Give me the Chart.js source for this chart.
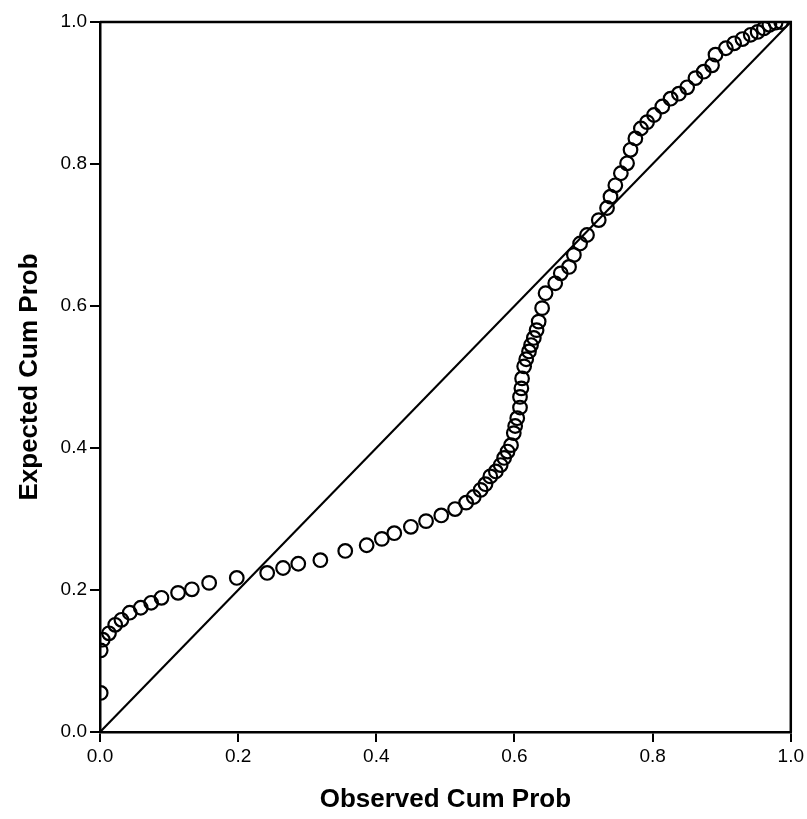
<!DOCTYPE html>
<html>
<head>
<meta charset="utf-8">
<script src="https://cdn.jsdelivr.net/npm/chart.js@4/dist/chart.umd.min.js"></script>
<style>
    html, body { margin: 0; padding: 0; background: #fff; }
    #wrap { width: 807px; height: 819px; }
</style>
</head>
<body>
<div id="wrap"><canvas id="ppChart"></canvas></div>
<script>
// P-P plot data
const observed = [
    0.001, 0.001, 0.004, 0.013, 0.022, 0.031, 0.043, 0.059, 0.074, 0.089,
    0.113, 0.133, 0.158, 0.198, 0.242, 0.265, 0.287, 0.319, 0.355, 0.386,
    0.408, 0.426, 0.450, 0.472, 0.494, 0.514, 0.530, 0.541, 0.551, 0.558,
    0.565, 0.573, 0.580, 0.585, 0.590, 0.595, 0.599, 0.601, 0.604, 0.608,
    0.608, 0.610, 0.611, 0.614, 0.617, 0.621, 0.624, 0.628, 0.632, 0.635,
    0.640, 0.645, 0.659, 0.667, 0.679, 0.686, 0.695, 0.705, 0.722, 0.734,
    0.739, 0.746, 0.754, 0.763, 0.768, 0.775, 0.783, 0.792, 0.802, 0.814,
    0.826, 0.838, 0.850, 0.862, 0.874, 0.886, 0.891, 0.906, 0.918, 0.930,
    0.942, 0.952, 0.961, 0.969, 0.978, 0.986
];
const expected = [
    0.055, 0.115, 0.130, 0.139, 0.151, 0.158, 0.168, 0.175, 0.182, 0.189,
    0.196, 0.201, 0.210, 0.217, 0.224, 0.231, 0.237, 0.242, 0.255, 0.263,
    0.272, 0.280, 0.289, 0.297, 0.305, 0.314, 0.323, 0.331, 0.341, 0.349,
    0.360, 0.367, 0.376, 0.386, 0.395, 0.404, 0.421, 0.431, 0.442, 0.457,
    0.472, 0.484, 0.498, 0.515, 0.525, 0.536, 0.545, 0.555, 0.566, 0.578,
    0.597, 0.618, 0.632, 0.646, 0.655, 0.672, 0.688, 0.700, 0.721, 0.738,
    0.754, 0.770, 0.787, 0.801, 0.820, 0.836, 0.850, 0.859, 0.869, 0.881,
    0.892, 0.899, 0.908, 0.921, 0.930, 0.939, 0.954, 0.963, 0.970, 0.976,
    0.982, 0.986, 0.991, 0.996, 0.999, 1.000
];
const refLineX = [0, 1];
const refLineY = [0, 1];
const tickValues = [0, 0.2, 0.4, 0.6, 0.8, 1.0];

const fontFamily = "'Liberation Sans', Arial, Helvetica, sans-serif";

// draws the top and right sides of the plot frame
const frameBox = {
    id: 'frameBox',
    afterDatasetsDraw(chart) {
        const { ctx, chartArea: a } = chart;
        ctx.save();
        ctx.strokeStyle = '#000';
        ctx.lineWidth = 2.5;
        ctx.beginPath();
        ctx.moveTo(a.left, a.top);
        ctx.lineTo(a.right, a.top);
        ctx.lineTo(a.right, a.bottom);
        ctx.stroke();
        ctx.restore();
    }
};

const ctx = document.getElementById('ppChart').getContext('2d');
new Chart(ctx, {
    type: 'scatter',
    data: {
        datasets: [
            {
                label: 'Observed',
                data: observed.map((x, i) => ({ x: x, y: expected[i] })),
                pointStyle: 'circle',
                pointRadius: 6.8,
                pointBorderWidth: 2.2,
                pointBorderColor: '#000',
                pointBackgroundColor: 'rgba(0,0,0,0)',
                showLine: false
            },
            {
                label: 'Reference',
                type: 'line',
                data: refLineX.map((x, i) => ({ x: x, y: refLineY[i] })),
                borderColor: '#000',
                borderWidth: 2.2,
                pointRadius: 0,
                fill: false
            }
        ]
    },
    options: {
        responsive: true,
        maintainAspectRatio: false,
        animation: false,
        layout: { padding: { top: 22, right: 12, left: 0, bottom: 0 } },
        plugins: {
            legend: { display: false },
            tooltip: { enabled: false }
        },
        scales: {
            x: {
                type: 'linear',
                min: 0,
                max: 1,
                afterBuildTicks: s => { s.ticks = tickValues.map(v => ({ value: v })); },
                afterFit: s => { s.height = 87; },
                grid: { drawOnChartArea: false, drawTicks: true, tickLength: 10, color: '#000', lineWidth: 2 },
                border: { display: true, color: '#000', width: 2.5 },
                ticks: {
                    color: '#000',
                    padding: 3,
                    maxRotation: 0,
                    font: { family: fontFamily, size: 19 },
                    callback: v => v.toFixed(1)
                },
                title: {
                    display: true,
                    text: 'Observed Cum Prob',
                    color: '#000',
                    padding: { top: 0, bottom: 4 },
                    font: { family: fontFamily, size: 26, weight: 'bold' }
                }
            },
            y: {
                type: 'linear',
                min: 0,
                max: 1,
                afterBuildTicks: s => { s.ticks = tickValues.map(v => ({ value: v })); },
                afterFit: s => { s.width = 100; },
                grid: { drawOnChartArea: false, drawTicks: true, tickLength: 10, color: '#000', lineWidth: 2 },
                border: { display: true, color: '#000', width: 2.5 },
                ticks: {
                    color: '#000',
                    padding: 3,
                    font: { family: fontFamily, size: 19 },
                    callback: v => v.toFixed(1)
                },
                title: {
                    display: true,
                    text: 'Expected Cum Prob',
                    color: '#000',
                    padding: { top: 14, bottom: 0 },
                    font: { family: fontFamily, size: 26, weight: 'bold' }
                }
            }
        }
    },
    plugins: [frameBox]
});
</script>
</body>
</html>
